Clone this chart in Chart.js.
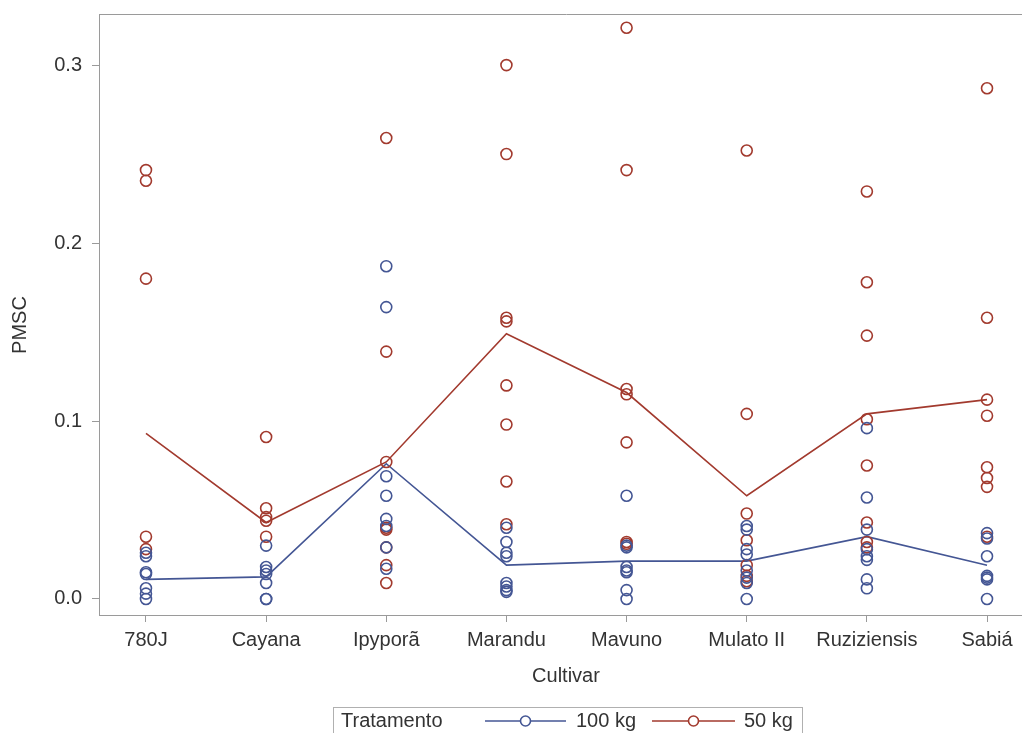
<!DOCTYPE html>
<html>
<head>
<meta charset="utf-8">
<script src="https://cdn.jsdelivr.net/npm/chart.js@4.4.1/dist/chart.umd.min.js"></script>
<style>
  html, body { margin: 0; padding: 0; background: #fff; overflow: hidden; width: 1022px; height: 733px; }
  canvas { display: block; }
</style>
</head>
<body>
<canvas id="c" width="1060" height="733"></canvas>
<script>
// Cultivars on the x axis
const cultivars = ['780J', 'Cayana', 'Ipyporã', 'Marandu', 'Mavuno', 'Mulato II', 'Ruziziensis', 'Sabiá'];

// Individual PMSC observations per cultivar, 100 kg treatment
const obs100kg = [
  [0.026, 0.024, 0.015, 0.014, 0.006, 0.003, 0.000],
  [0.030, 0.018, 0.016, 0.014, 0.009, 0.000, 0.000],
  [0.187, 0.164, 0.069, 0.058, 0.045, 0.041, 0.029, 0.017],
  [0.040, 0.032, 0.026, 0.024, 0.009, 0.007, 0.005, 0.004],
  [0.058, 0.030, 0.029, 0.018, 0.016, 0.015, 0.005, 0.000],
  [0.041, 0.039, 0.028, 0.025, 0.016, 0.012, 0.009, 0.000],
  [0.096, 0.057, 0.039, 0.028, 0.024, 0.022, 0.011, 0.006],
  [0.037, 0.034, 0.024, 0.013, 0.012, 0.011, 0.000]
];

// Individual PMSC observations per cultivar, 50 kg treatment
const obs50kg = [
  [0.241, 0.235, 0.180, 0.035, 0.028],
  [0.091, 0.051, 0.046, 0.044, 0.035],
  [0.259, 0.139, 0.077, 0.040, 0.039, 0.029, 0.019, 0.009],
  [0.300, 0.250, 0.158, 0.156, 0.120, 0.098, 0.066, 0.042],
  [0.321, 0.241, 0.118, 0.115, 0.088, 0.032, 0.031],
  [0.252, 0.104, 0.048, 0.033, 0.019, 0.013, 0.010],
  [0.229, 0.178, 0.148, 0.101, 0.075, 0.043, 0.032, 0.029],
  [0.287, 0.158, 0.112, 0.103, 0.074, 0.068, 0.063, 0.035]
];

// Treatment means per cultivar (connected lines)
const mean100kg = [0.011, 0.0124, 0.076, 0.019, 0.0213, 0.0213, 0.035, 0.019];
const mean50kg  = [0.093, 0.043, 0.077, 0.149, 0.116, 0.058, 0.104, 0.112];

const yTicks = [0, 0.1, 0.2, 0.3];
const seriesNames = ['100 kg', '50 kg'];
const legendTitle = 'Tratamento';
const xTitle = 'Cultivar';
const yTitle = 'PMSC';

const BLUE = '#445694';
const RED = '#a23a2e';
const AXIS = '#9a9a9a';
const TEXT = '#333333';
const FONT = "'Liberation Sans', Arial, sans-serif";
const FONT_SIZE = 20;

const toPoints = groups => groups.flatMap((vals, i) => vals.map(v => ({ x: i, y: v })));
const toLine = vals => vals.map((v, i) => ({ x: i, y: v }));

Chart.defaults.font.family = FONT;
Chart.defaults.font.size = FONT_SIZE;
Chart.defaults.color = TEXT;

const markerStyle = color => ({
  pointStyle: 'circle',
  pointRadius: 5.5,
  pointBorderWidth: 1.6,
  pointBorderColor: color,
  pointBackgroundColor: 'rgba(0,0,0,0)',
  showLine: false
});

// Frame, axis titles and legend
const decorations = {
  id: 'decorations',
  afterDraw(chart) {
    const { ctx, chartArea: a } = chart;
    ctx.save();
    ctx.strokeStyle = AXIS;
    ctx.lineWidth = 1;
    ctx.beginPath();
    ctx.moveTo(a.left, a.top + 0.5);
    ctx.lineTo(a.right, a.top + 0.5);
    ctx.lineTo(a.right - 0.5, a.bottom);
    ctx.stroke();

    ctx.fillStyle = TEXT;
    ctx.font = `${FONT_SIZE}px ${FONT}`;
    ctx.textBaseline = 'middle';
    ctx.textAlign = 'center';
    ctx.fillText(xTitle, 566, 676);

    ctx.save();
    ctx.translate(20, 325);
    ctx.rotate(-Math.PI / 2);
    ctx.fillText(yTitle, 0, 0);
    ctx.restore();

    // legend box
    const ly = 721;
    ctx.strokeStyle = '#b0b0b0';
    ctx.strokeRect(333.5, 707.5, 469, 40);
    ctx.textAlign = 'left';
    ctx.fillText(legendTitle, 341, ly);

    const sample = (x0, x1, color) => {
      ctx.strokeStyle = color;
      ctx.lineWidth = 1.6;
      ctx.beginPath();
      ctx.moveTo(x0, ly);
      ctx.lineTo(x1, ly);
      ctx.stroke();
      ctx.fillStyle = '#fff';
      ctx.beginPath();
      ctx.arc((x0 + x1) / 2, ly, 5, 0, Math.PI * 2);
      ctx.fill();
      ctx.stroke();
    };
    sample(485, 566, BLUE);
    ctx.fillStyle = TEXT;
    ctx.fillText(seriesNames[0], 576, ly);
    sample(652, 735, RED);
    ctx.fillStyle = TEXT;
    ctx.fillText(seriesNames[1], 744, ly);
    ctx.restore();
  }
};

new Chart(document.getElementById('c'), {
  type: 'scatter',
  data: {
    datasets: [
      { label: seriesNames[0], data: toPoints(obs100kg), ...markerStyle(BLUE) },
      { label: seriesNames[1], data: toPoints(obs50kg), ...markerStyle(RED) },
      { label: seriesNames[0] + ' mean', data: toLine(mean100kg), showLine: true,
        borderColor: BLUE, borderWidth: 1.6, pointRadius: 0, fill: false },
      { label: seriesNames[1] + ' mean', data: toLine(mean50kg), showLine: true,
        borderColor: RED, borderWidth: 1.6, pointRadius: 0, fill: false }
    ]
  },
  options: {
    responsive: false,
    animation: false,
    devicePixelRatio: 1,
    layout: { padding: { left: 0, top: 14, right: 26, bottom: 0 } },
    plugins: { legend: { display: false }, tooltip: { enabled: false } },
    scales: {
      x: {
        type: 'linear',
        min: -0.391,
        max: 7.391,
        afterBuildTicks: s => { s.ticks = cultivars.map((_, i) => ({ value: i })); },
        afterFit: s => { s.height = 118; s.paddingLeft = 0; s.paddingRight = 0; },
        ticks: {
          autoSkip: false, maxRotation: 0, padding: 6, color: TEXT,
          callback: v => cultivars[v]
        },
        grid: { drawOnChartArea: false, tickLength: 7, tickColor: AXIS },
        border: { display: true, color: AXIS }
      },
      y: {
        min: -0.009,
        max: 0.3287,
        afterBuildTicks: s => { s.ticks = yTicks.map(v => ({ value: v })); },
        afterFit: s => { s.width = 99; s.paddingTop = 0; s.paddingBottom = 0; },
        ticks: { padding: 10, color: TEXT, callback: v => v.toFixed(1) },
        grid: { drawOnChartArea: false, tickLength: 7, tickColor: AXIS },
        border: { display: true, color: AXIS }
      }
    }
  },
  plugins: [decorations]
});
</script>
</body>
</html>
